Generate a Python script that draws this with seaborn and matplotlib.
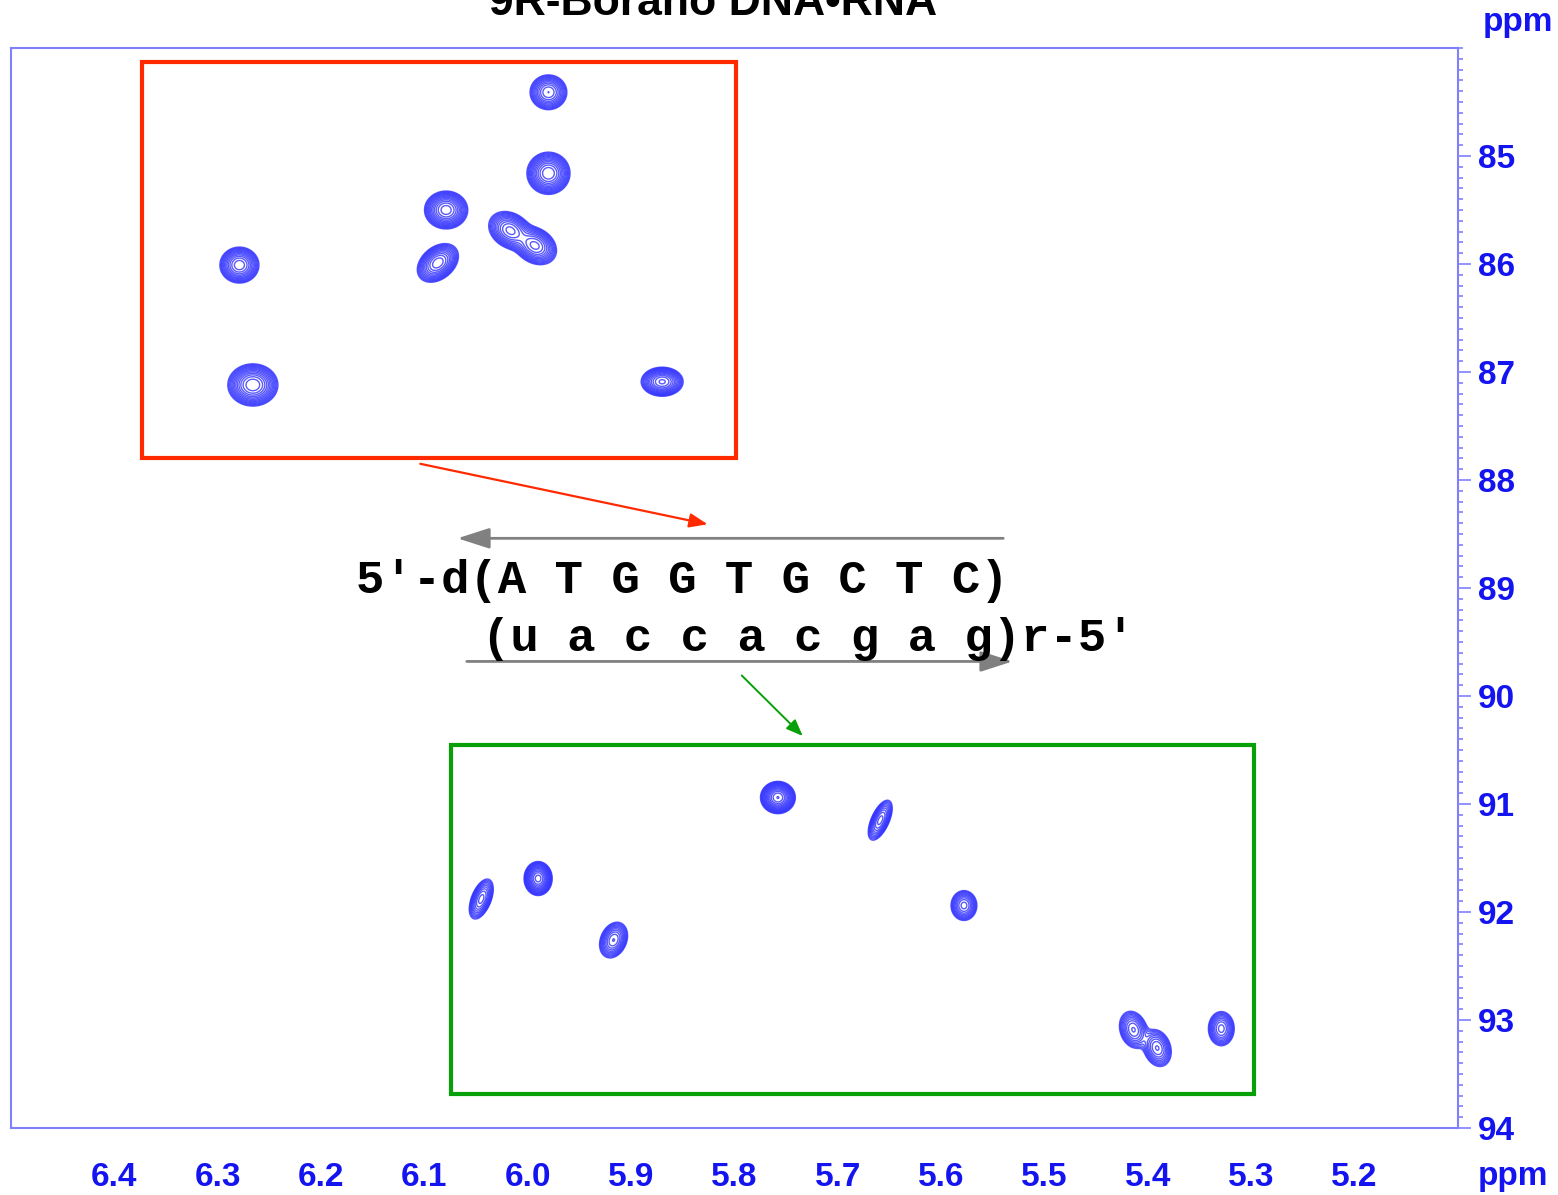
import numpy as np
import matplotlib
matplotlib.use("Agg")
import matplotlib.pyplot as plt
from matplotlib.patches import Rectangle
from matplotlib.ticker import MultipleLocator
import seaborn as sns

# --- peak list (1H ppm, 13C ppm) ---
peak_h = [5.980, 5.980, 6.079, 6.017, 5.993, 6.087, 6.279, 6.266, 5.870,
          5.758, 5.659, 5.990, 6.045, 5.917, 5.578, 5.414, 5.391, 5.329]
peak_c = [84.41, 85.16, 85.50, 85.69, 85.83, 85.99, 86.01, 87.12, 87.09,
          90.94, 91.15, 91.69, 91.88, 92.26, 91.94, 93.09, 93.26, 93.08]
peak_amp = [18, 30, 28, 20, 20, 22, 22, 30, 25,
            40, 12, 35, 12, 14, 12, 11, 11, 12]
peak_sh = [0.0074, 0.0080, 0.0081, 0.0085, 0.0085, 0.0080, 0.0076, 0.0093, 0.0080,
           0.0062, 0.0052, 0.0051, 0.0052, 0.0059, 0.0056, 0.0062, 0.0062, 0.0056]
peak_sc = [0.067, 0.075, 0.068, 0.072, 0.072, 0.072, 0.067, 0.075, 0.053,
           0.055, 0.083, 0.059, 0.083, 0.072, 0.062, 0.078, 0.078, 0.071]
peak_rho = [0.0, 0.0, 0.0, -0.25, -0.25, 0.35, 0.0, 0.0, 0.0,
            0.0, 0.6, 0.0, 0.5, 0.25, 0.0, -0.2, -0.2, 0.0]

x_ticks = [6.4, 6.3, 6.2, 6.1, 6.0, 5.9, 5.8, 5.7, 5.6, 5.5, 5.4, 5.3, 5.2]
y_ticks = [85, 86, 87, 88, 89, 90, 91, 92, 93, 94]

seq_dna = "5\u2032-d(A T G G T G C T C)"
seq_rna = "(u a c c a c g a g)r-5\u2032"

sns.set_style("white")
plt.rcParams["font.family"] = ["Liberation Sans", "DejaVu Sans"]

axis_col = "#8080ff"
label_col = "#1414f0"
peak_col = "#2f2fff"

fig = plt.figure(figsize=(15.58, 11.95), dpi=100)
ax = fig.add_axes([11 / 1558, 67 / 1195, 1447 / 1558, 1080 / 1195])

# spectrum surface from the peak list
gx = np.linspace(6.5, 5.1, 1600)
gy = np.linspace(84, 94, 1200)
X, Y = np.meshgrid(gx, gy)
Z = np.zeros_like(X)
for h, c, a, sh, sc, r in zip(peak_h, peak_c, peak_amp, peak_sh, peak_sc, peak_rho):
    u = (X - h) / sh
    v = (Y - c) / sc
    Z += a * np.exp(-(u * u - 2 * r * u * v + v * v) / (2 * (1 - r * r)))

levels = 1.0 * 1.3 ** np.arange(0, 15)
ax.contour(X, Y, Z, levels=levels, colors=peak_col, linewidths=1.0, alpha=0.8)

ax.set_xlim(6.5, 5.1)
ax.set_ylim(94, 84)

# boxes and arrows
ax.add_patch(Rectangle((6.373, 84.13), 5.799 - 6.373, 87.796 - 84.13,
                       fill=False, ec="#ff2a00", lw=3.0, zorder=3))
ax.add_patch(Rectangle((6.074, 90.454), 5.297 - 6.074, 93.685 - 90.454,
                       fill=False, ec="#08a008", lw=3.0, zorder=3))

ax.annotate("", xy=(5.826, 88.41), xytext=(6.104, 87.85),
            arrowprops=dict(arrowstyle="-|>,head_length=1.1,head_width=0.43",
                            mutation_scale=10, color="#ff2a00", lw=1.6,
                            shrinkA=0, shrinkB=0))
ax.annotate("", xy=(5.734, 90.37), xytext=(5.793, 89.81),
            arrowprops=dict(arrowstyle="-|>,head_length=1.0,head_width=0.4",
                            mutation_scale=10, color="#08a008", lw=1.4,
                            shrinkA=0, shrinkB=0))
ax.annotate("", xy=(6.068, 88.54), xytext=(5.540, 88.54),
            arrowprops=dict(arrowstyle="-|>,head_length=1.4,head_width=0.45",
                            mutation_scale=14, color="#808080", lw=2.0,
                            shrinkA=0, shrinkB=0))
ax.annotate("", xy=(5.531, 89.68), xytext=(6.059, 89.68),
            arrowprops=dict(arrowstyle="-|>,head_length=1.4,head_width=0.45",
                            mutation_scale=14, color="#808080", lw=2.0,
                            shrinkA=0, shrinkB=0))

mono = ["Liberation Mono", "DejaVu Sans Mono"]
ax.text(6.166, 89.05, seq_dna, family=mono, fontweight="bold", fontsize=34,
        color="black", va="baseline", ha="left")
ax.text(6.044, 89.58, seq_rna, family=mono, fontweight="bold", fontsize=34,
        color="black", va="baseline", ha="left")

# axes styling
for side in ["left", "right", "top", "bottom"]:
    ax.spines[side].set_color(axis_col)
    ax.spines[side].set_linewidth(1.5)

ax.yaxis.tick_right()
ax.set_xticks(x_ticks)
ax.set_xticklabels([f"{v:.1f}" for v in x_ticks])
ax.set_yticks(y_ticks)
ax.set_yticklabels([str(v) for v in y_ticks])
ax.xaxis.set_minor_locator(MultipleLocator(0.01))
ax.yaxis.set_minor_locator(MultipleLocator(0.1))

ax.tick_params(axis="both", which="both", direction="out", color=axis_col,
               width=1.2, labelcolor=label_col, labelsize=24)
ax.tick_params(axis="both", which="major", length=9.5)
ax.tick_params(axis="both", which="minor", length=3.6)
ax.tick_params(axis="x", which="major", pad=15)
ax.tick_params(axis="y", which="major", pad=5)
ax.tick_params(axis="y", which="both", left=False, right=True)
for lab in ax.get_xticklabels() + ax.get_yticklabels():
    lab.set_fontweight("bold")

fig.text(1513 / 1558, 1 - 1177 / 1195, "ppm", color=label_col, fontsize=24,
         fontweight="bold", ha="center", va="center")
fig.text(1518 / 1558, 1 - 22 / 1195, "ppm", color=label_col, fontsize=24,
         fontweight="bold", ha="center", va="center")
# title sits partly above the top edge, as in the source figure
fig.text(713 / 1558, 1 - 15 / 1195, "9R-Borano DNA\u2022RNA", color="black",
         fontsize=32, fontweight="bold", ha="center", va="baseline")

fig.savefig("out.png", dpi=100)
